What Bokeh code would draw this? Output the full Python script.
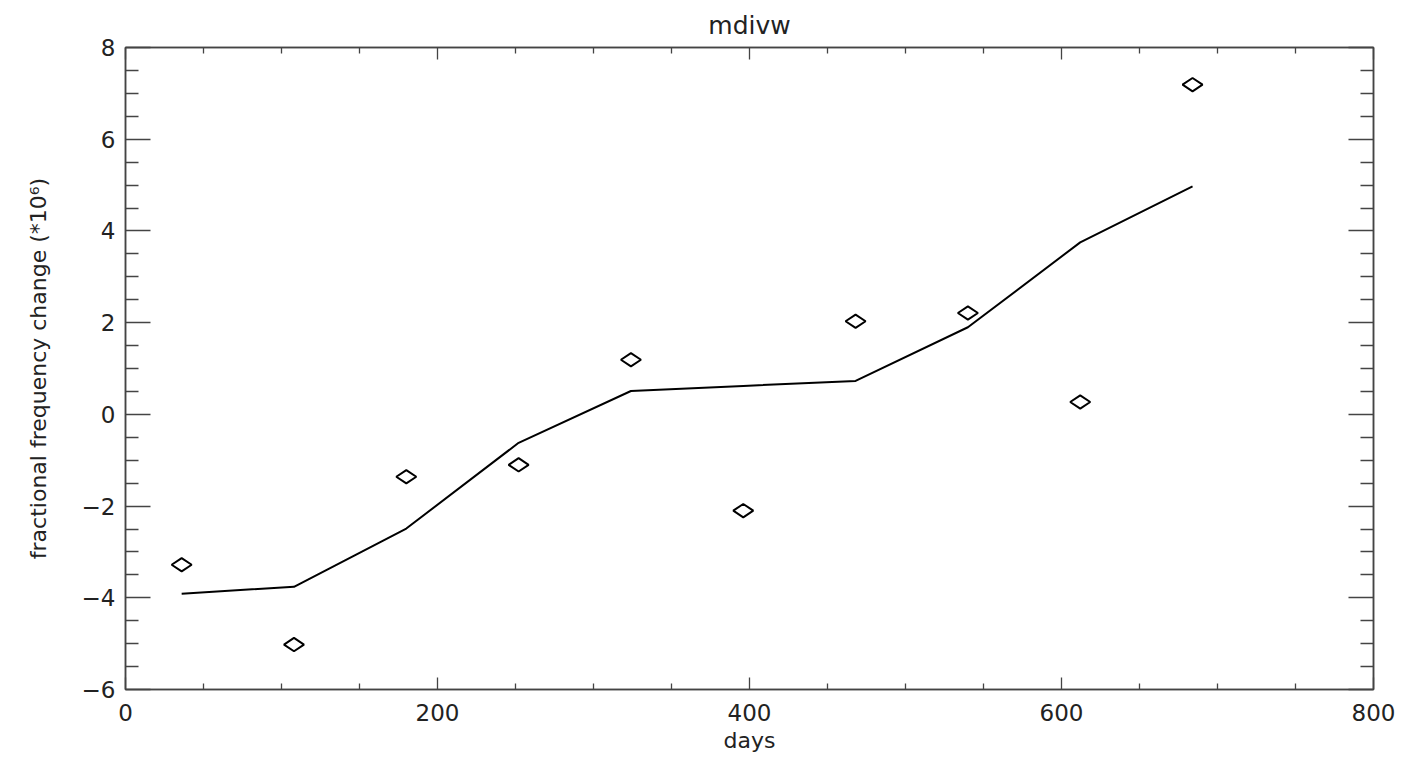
import math
from bokeh.plotting import figure
from bokeh.models import FixedTicker, LinearAxis, Range1d
from bokeh.embed import file_html
from bokeh.resources import INLINE

# Observation days, measured fractional frequency change and the fitted curve
days = [36, 108, 180, 252, 324, 396, 468, 540, 612, 684]
measured = [-3.28, -5.02, -1.36, -1.10, 1.19, -2.10, 2.03, 2.21, 0.27, 7.19]
fit_days = [36, 108, 180, 252, 324, 396, 468, 540, 612, 684]
fit = [-3.91, -3.76, -2.49, -0.62, 0.51, 0.62, 0.73, 1.90, 3.75, 4.97]

x_ticks = [0, 200, 400, 600, 800]
x_minor = [v for v in range(50, 800, 50) if v % 200]
y_ticks = [-6, -4, -2, 0, 2, 4, 6, 8]
y_minor = [v / 2 for v in range(-11, 16) if v % 4]

FONT = "DejaVu Sans"
INK = "#222222"
FRAME = "#444444"

p = figure(width=1406, height=761, output_backend="svg", toolbar_location=None,
           x_range=Range1d(0, 800), y_range=Range1d(-6, 8),
           x_axis_label="days",
           y_axis_label="fractional frequency change (*10\u2076)",
           min_border_left=125, min_border_right=33, min_border_bottom=72,
           min_border_top=46)
p.title.text = "mdivw"
p.title.align = "center"
p.title.text_font = FONT
p.title.text_font_size = "25px"
p.title.text_font_style = "normal"
p.title.text_color = INK
p.title.standoff = 16

p.grid.visible = False
p.outline_line_color = FRAME
p.outline_line_width = 1.5

xt = FixedTicker(ticks=x_ticks, minor_ticks=x_minor)
yt = FixedTicker(ticks=y_ticks, minor_ticks=y_minor)


def style(ax, ticker, major_len, minor_len, labels=True):
    ax.ticker = ticker
    ax.axis_line_color = FRAME
    ax.axis_line_width = 1.5
    ax.major_tick_line_color = FRAME
    ax.minor_tick_line_color = FRAME
    ax.major_tick_line_width = 1.3
    ax.minor_tick_line_width = 1.3
    ax.major_tick_out = 0
    ax.minor_tick_out = 0
    ax.major_tick_in = major_len
    ax.minor_tick_in = minor_len
    ax.major_label_text_font = FONT
    ax.major_label_text_font_size = "23px"
    ax.major_label_text_color = INK
    ax.axis_label_text_font = FONT
    ax.axis_label_text_font_size = "22px"
    ax.axis_label_text_font_style = "normal"
    ax.axis_label_text_color = INK
    if not labels:
        ax.major_label_text_font_size = "0px"
        ax.major_label_text_alpha = 0


style(p.xaxis[0], xt, 12, 6)
style(p.yaxis[0], yt, 25, 13)
p.xaxis[0].major_label_standoff = 14
p.xaxis[0].axis_label_standoff = 4
p.yaxis[0].major_label_standoff = 10
p.yaxis[0].axis_label_standoff = 28

top = LinearAxis(axis_label=None)
right = LinearAxis(axis_label=None)
style(top, xt, 12, 6, labels=False)
style(right, yt, 25, 13, labels=False)
p.add_layout(top, "above")
p.add_layout(right, "right")

p.line(fit_days, fit, line_color="black", line_width=2)
p.scatter(days, measured, marker="diamond", size=20, angle=math.pi / 2,
          fill_color=None, line_color="black", line_width=2)

open("out.html", "w").write(file_html(p, INLINE))
